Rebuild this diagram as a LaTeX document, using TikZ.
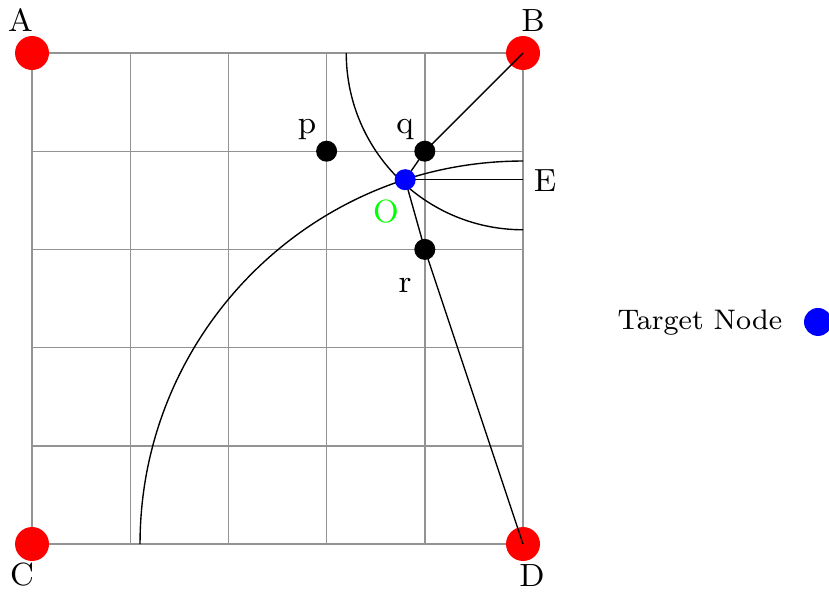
\documentclass[tikz,border=0pt]{standalone}
\begin{document}
\begin{tikzpicture}[font=\fontsize{9.3}{11}\selectfont,
  reddot/.style={circle,fill=red,inner sep=0pt,minimum size=0.346cm},
  blackdot/.style={circle,fill=black,inner sep=0pt,minimum size=0.214cm},
  bluedot/.style={circle,fill=blue,inner sep=0pt,minimum size=0.214cm},
  lab/.style={anchor=base,inner sep=0pt}]
\useasboundingbox (-0.326,-0.499) rectangle (8.116,5.540);
\draw[gray!85] (0,0) grid (5,5);
% corner nodes
\node[reddot] (A) at (0,5) {};
\node[reddot] (B) at (5,5) {};
\node[reddot] (C) at (0,0) {};
\node[reddot] (D) at (5,0) {};
\node[lab] (Al) at (-0.117,5.214) {A};
\node[lab] (Bl) at (5.102,5.214) {B};
\node[lab] (Cl) at (-0.102,-0.418) {C};
\node[lab] (Dl) at (5.092,-0.428) {D};
% arcs
\draw (D.center) ++(180:3.9) arc (180:90:3.9);
\draw (B.center) ++(180:1.8) arc (180:270:1.8);
% inner points
\node[blackdot] (p) at (3,4) {};
\node[blackdot] (q) at (4,4) {};
\node[blackdot] (r) at (4,3) {};
\node[lab] (pl) at (2.800,4.185) {p};
\node[lab] (ql) at (3.798,4.185) {q};
\node[lab] (rl) at (3.798,2.566) {r};
\coordinate (o) at (3.8,3.71);
\coordinate (E) at (5,3.71);
\draw (B.center) -- (q.center) -- (o) -- (r.center) -- (D.center);
\draw (o) -- (E);
\node[bluedot] (O) at (o) {};
\node[lab,text=green] (Ol) at (3.605,3.269) {O};
\node[lab] (El) at (5.224,3.585) {E};
% legend
\node[anchor=base west,inner sep=0pt,font=\fontsize{8.2}{10}\selectfont] (tn) at (5.957,2.189) {Target Node};
\node[circle,fill=blue,inner sep=0pt,minimum size=0.285cm] (leg) at (8.004,2.261) {};
\end{tikzpicture}
\end{document}
